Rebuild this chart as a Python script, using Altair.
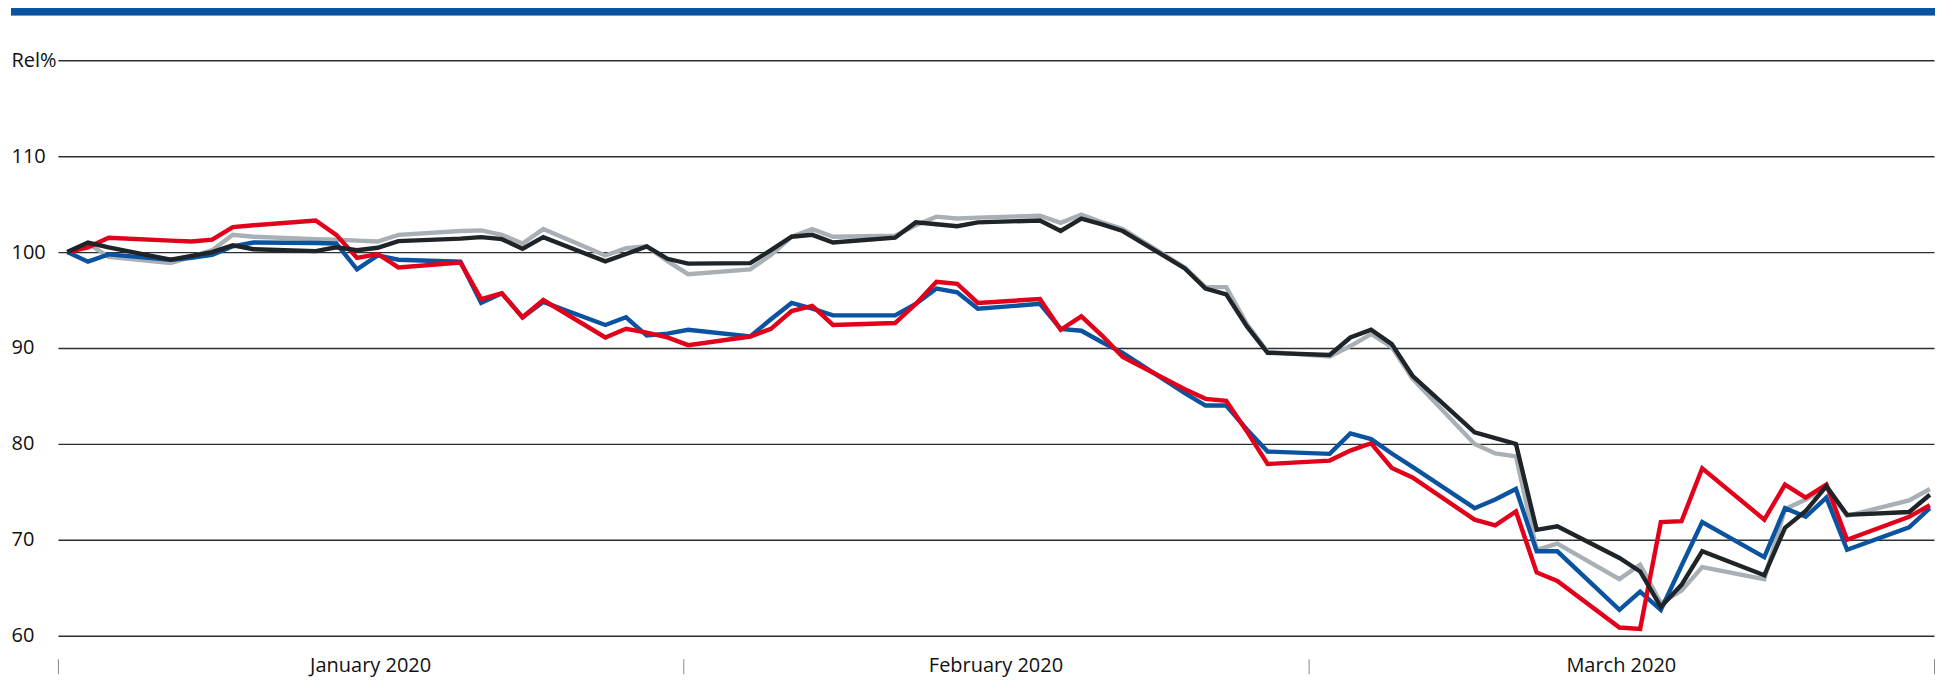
import altair as alt
import pandas as pd

# ---- data ----
dates = [
    "2020-01-01", "2020-01-02", "2020-01-03", "2020-01-06", "2020-01-07", "2020-01-08",
    "2020-01-09", "2020-01-10", "2020-01-13", "2020-01-14", "2020-01-15", "2020-01-16",
    "2020-01-17", "2020-01-20", "2020-01-21", "2020-01-22", "2020-01-23", "2020-01-24",
    "2020-01-27", "2020-01-28", "2020-01-29", "2020-01-30", "2020-01-31",
    "2020-02-03", "2020-02-04", "2020-02-05", "2020-02-06", "2020-02-07", "2020-02-10",
    "2020-02-11", "2020-02-12", "2020-02-13", "2020-02-14", "2020-02-17", "2020-02-18",
    "2020-02-19", "2020-02-20", "2020-02-21", "2020-02-24", "2020-02-25", "2020-02-26",
    "2020-02-27", "2020-02-28",
    "2020-03-02", "2020-03-03", "2020-03-04", "2020-03-05", "2020-03-06", "2020-03-09",
    "2020-03-10", "2020-03-11", "2020-03-12", "2020-03-13", "2020-03-16", "2020-03-17",
    "2020-03-18", "2020-03-19", "2020-03-20", "2020-03-23", "2020-03-24", "2020-03-25",
    "2020-03-26", "2020-03-27", "2020-03-30", "2020-03-31",
]

blue_values = [
    100, 99.0, 99.76, 99.2, 99.4, 99.7, 100.6, 101.0, 100.95, 100.9, 98.2, 99.65,
    99.2, 99.0, 94.7, 95.7, 93.2, 94.8, 92.4, 93.2, 91.3, 91.5, 91.9,
    91.2, 93.0, 94.7, 94.1, 93.4, 93.4, 94.6, 96.2, 95.8, 94.1, 94.6, 92.0,
    91.8, 90.6, 89.5, 85.3, 84.0, 84.0, 81.5, 79.2,
    78.96, 81.1, 80.5, 79.0, 77.6, 73.3, 74.2, 75.3, 68.8, 68.8, 62.7, 64.6,
    62.7, 67.3, 71.84, 68.2, 73.3, 72.4, 74.4, 68.96, 71.3, 73.3,
]
red_values = [
    100, 100.5, 101.5, 101.2, 101.1, 101.3, 102.6, 102.8, 103.3, 101.8, 99.4, 99.8,
    98.4, 98.9, 95.1, 95.7, 93.2, 95.0, 91.1, 92.0, 91.6, 91.1, 90.3,
    91.2, 92.0, 93.85, 94.4, 92.4, 92.6, 94.6, 96.9, 96.7, 94.7, 95.1, 91.9,
    93.3, 91.3, 89.06, 85.7, 84.7, 84.5, 81.3, 77.9,
    78.26, 79.3, 80.07, 77.5, 76.5, 72.1, 71.5, 72.95, 66.6, 65.7, 60.85, 60.7,
    71.84, 71.94, 77.46, 72.1, 75.76, 74.4, 75.76, 70.0, 72.4, 73.6,
]
grey_values = [
    100, 100.9, 99.5, 98.85, 99.5, 100.2, 101.8, 101.6, 101.35, 101.3, 101.2, 101.1,
    101.8, 102.2, 102.26, 101.8, 100.9, 102.4, 99.65, 100.4, 100.6, 99.06, 97.7,
    98.2, 99.7, 101.6, 102.4, 101.6, 101.7, 102.8, 103.7, 103.5, 103.6, 103.8, 103.05,
    103.9, 103.1, 102.4, 98.4, 96.35, 96.35, 92.5, 89.6,
    89.1, 90.2, 91.46, 90.1, 86.8, 80.0, 79.0, 78.7, 68.96, 69.6, 65.9, 67.4,
    63.4, 64.7, 67.15, 65.9, 73.2, 74.2, 75.5, 72.5, 74.1, 75.3,
]
black_values = [
    100, 101.0, 100.5, 99.2, 99.6, 100.0, 100.7, 100.3, 100.1, 100.5, 100.2, 100.45,
    101.15, 101.4, 101.56, 101.35, 100.35, 101.56, 99.03, 99.8, 100.6, 99.3, 98.8,
    98.85, 100.2, 101.6, 101.8, 101.0, 101.5, 103.1, 102.9, 102.7, 103.1, 103.3, 102.2,
    103.5, 102.9, 102.2, 98.3, 96.2, 95.6, 92.25, 89.5,
    89.27, 91.1, 91.9, 90.4, 87.1, 81.2, 80.6, 80.0, 71.04, 71.4, 68.1, 66.7,
    63.0, 65.3, 68.8, 66.3, 71.25, 73.0, 75.6, 72.6, 72.9, 74.7,
]

series_names = ["Grey", "Blue", "Red", "Black"]
series_colors = ["#a8b0b5", "#0a53a0", "#e3001b", "#1e2428"]
series_values = [grey_values, blue_values, red_values, black_values]

month_labels = ["January 2020", "February 2020", "March 2020"]
y_ticks = [60, 70, 80, 90, 100, 110, 120]

# ---- build tables ----
base_day = pd.Timestamp("2019-12-31")
day_num = [(pd.Timestamp(d) - base_day).days for d in dates]

frames = []
for name, vals in zip(series_names, series_values):
    frames.append(pd.DataFrame({"day": day_num, "value": vals, "series": name}))
df = pd.concat(frames, ignore_index=True)

d0, d1 = 0.55, 91.2
third = (d1 - d0) / 3
tick_vals = [d0, d0 + third, d0 + 2 * third, d1]
months_df = pd.DataFrame({
    "day": [d0 + (i + 0.5) * third for i in range(3)],
    "label": month_labels,
})

W, H = 1878, 576
FONT = "Open Sans"
FS = 20

x_scale = alt.Scale(domain=[d0, d1], nice=False, zero=False)
y_scale = alt.Scale(domain=[60, 120], nice=False, zero=False)


def x_axis():
    return alt.Axis(values=tick_vals, labels=False, domain=False, grid=False,
                    ticks=True, tickSize=15, tickColor="#8a8a8a", tickWidth=1,
                    offset=23, title=None)


def y_axis():
    return alt.Axis(values=y_ticks,
                    labelExpr="datum.value == 120 ? 'Rel%' : datum.label",
                    labelAlign="left", labelBaseline="middle", labelPadding=47,
                    ticks=False, tickSize=0, domain=False, grid=True,
                    gridColor="#2e2e2e", gridWidth=1.4,
                    labelFont=FONT, labelFontSize=FS, labelColor="#111111",
                    title=None)


color_scale = alt.Scale(domain=series_names, range=series_colors)

layers = []
for name in series_names:
    layers.append(
        alt.Chart(df[df["series"] == name]).mark_line(strokeWidth=4.4).encode(
            x=alt.X("day:Q", scale=x_scale, axis=x_axis()),
            y=alt.Y("value:Q", scale=y_scale, axis=y_axis()),
            color=alt.Color("series:N", scale=color_scale, legend=None),
        )
    )

month_text = alt.Chart(months_df).mark_text(
    font=FONT, fontSize=FS, color="#111111", baseline="middle", align="center"
).encode(
    x=alt.X("day:Q", scale=x_scale, axis=x_axis()),
    y=alt.value(H + 30),
    text="label:N",
)

top_bar = alt.Chart(months_df).mark_rule(color="#0a53a0", strokeWidth=7).encode(
    x=alt.value(-47), x2=alt.value(W + 1), y=alt.value(-48.5)
)

chart = alt.layer(*layers, month_text, top_bar).properties(
    width=W, height=H,
    autosize=alt.AutoSizeParams(type="none"),
    padding={"left": 50, "top": 52, "right": 4, "bottom": 52},
    background="white",
).configure_view(stroke=None)

chart.save("out.html", embed_options={"renderer": "svg", "actions": False})
